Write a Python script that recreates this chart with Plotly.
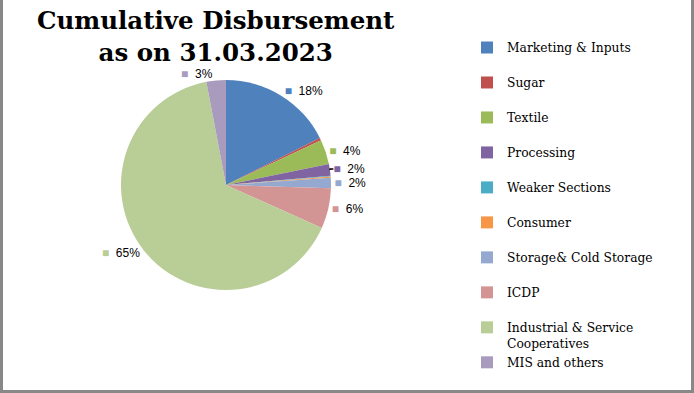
import plotly.graph_objects as go

categories = ["Marketing & Inputs", "Sugar", "Textile", "Processing", "Weaker Sections",
              "Consumer", "Storage& Cold Storage", "ICDP",
              "Industrial & Service Cooperatives", "MIS and others"]
values = [17.6, 0.4, 3.8, 1.8, 0.1, 0.2, 1.6, 6.2, 65.3, 3.0]
colors = ["#4F81BD", "#C0504D", "#9BBB59", "#8064A2", "#4BACC6",
          "#F79646", "#95A9D0", "#D39594", "#B9CD96", "#A99BBD"]
title_lines = ["Cumulative Disbursement", "as on 31.03.2023"]

total = sum(values)
texts = []
for v, c in zip(values, colors):
    p = round(100 * v / total)
    texts.append(f"<span style='color:{c}'>■</span>  {p}%" if p >= 1 else "")

legend_labels = []
for c in categories:
    if c == "Industrial & Service Cooperatives":
        legend_labels.append("Industrial & Service<br>Cooperatives")
    else:
        legend_labels.append(c + "<br>\u00a0")

W, H = 694, 393

fig = go.Figure(go.Pie(
    labels=legend_labels,
    values=values,
    text=texts,
    texttemplate="%{text}",
    textposition="outside",
    textfont=dict(family="Liberation Sans", size=12, color="#000"),
    marker=dict(colors=colors, line=dict(width=0)),
    sort=False,
    direction="clockwise",
    rotation=0,
    hoverinfo="label+percent",
    domain=dict(x=[121 / W, 331 / W], y=[103 / H, 313 / H]),
    automargin=False,
))

fig.update_layout(
    width=W, height=H,
    margin=dict(l=0, r=0, t=0, b=0),
    paper_bgcolor="white",
    plot_bgcolor="white",
    annotations=[dict(
        text="<b>" + "<br>".join(title_lines) + "</b>",
        xref="paper", yref="paper",
        x=216 / W, xanchor="center", y=1 - 4 / H, yanchor="top",
        showarrow=False,
        font=dict(family="DejaVu Serif", size=24.5, color="#000"),
    )],
    legend=dict(
        x=467 / W, xanchor="left", y=1 - 45 / H, yanchor="top",
        font=dict(family="DejaVu Serif", size=12.3, color="#000"),
        valign="top", itemwidth=30,
        bgcolor="rgba(0,0,0,0)",
    ),
    shapes=[
        dict(type="line", xref="paper", yref="paper", x0=1.5 / W, x1=1.5 / W, y0=0, y1=1,
             line=dict(color="#888888", width=3)),
        dict(type="line", xref="paper", yref="paper", x0=692.5 / W, x1=692.5 / W, y0=0, y1=1,
             line=dict(color="#888888", width=3)),
        dict(type="line", xref="paper", yref="paper", x0=0, x1=1, y0=1.5 / H, y1=1.5 / H,
             line=dict(color="#888888", width=3)),
    ],
)

fig.write_html("out.html", config={"displayModeBar": False},
               post_script="document.body.style.margin='0';document.body.style.overflow='hidden';")
